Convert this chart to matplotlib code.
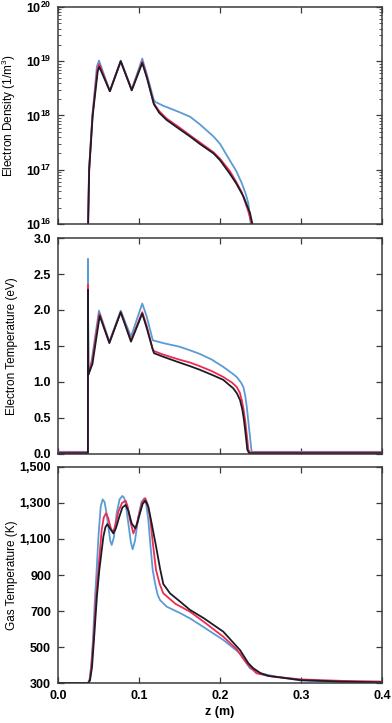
import matplotlib

matplotlib.use("Agg")
import matplotlib.pyplot as plt
import numpy as np
from matplotlib.ticker import FixedLocator, FuncFormatter, LogLocator, NullFormatter

plt.rcParams["font.family"] = ["Liberation Sans", "DejaVu Sans"]
plt.rcParams["mathtext.fontset"] = "custom"
plt.rcParams["mathtext.rm"] = "Liberation Sans"
plt.rcParams["mathtext.bf"] = "Liberation Sans:bold"

BLUE = "#5b9bd5"
RED = "#ee2c52"
BLACK = "#1c1c28"

# electron density (1/m^3) vs z (m)
ne_blue_z = [0.0370, 0.0383, 0.0424, 0.0480, 0.0506, 0.0640, 0.0774, 0.0910, 0.1040, 0.1100, 0.1180,
             0.1200, 0.1300, 0.1400, 0.1500, 0.1630, 0.1750, 0.1920, 0.2000, 0.2120, 0.2200, 0.2270,
             0.2320, 0.2350, 0.2380]
ne_blue = [1.0e16, 1.0e17, 1.0e18, 8.0e18, 1.03e19, 2.8e18, 1.03e19, 3.0e18, 1.12e19, 5.5e18, 2.0e18,
           1.78e18, 1.51e18, 1.32e18, 1.15e18, 9.5e17, 6.9e17, 4.1e17, 3.0e17, 1.5e17, 9.5e16, 5.6e16,
           3.5e16, 2.4e16, 1.0e16]
ne_red_z = [0.0371, 0.0384, 0.0426, 0.0485, 0.0508, 0.0640, 0.0774, 0.0910, 0.1042, 0.1100, 0.1180,
            0.1250, 0.1340, 0.1500, 0.1630, 0.1750, 0.1920, 0.2000, 0.2120, 0.2200, 0.2270, 0.2350,
            0.2390]
ne_red = [1.0e16, 1.0e17, 1.0e18, 7.0e18, 8.9e18, 2.8e18, 1.0e19, 3.0e18, 9.8e18, 5.0e18, 1.7e18,
          1.2e18, 8.8e17, 6.0e17, 4.3e17, 3.2e17, 2.1e17, 1.6e17, 9.5e16, 6.0e16, 3.8e16, 1.7e16,
          1.0e16]
ne_black_z = [0.0372, 0.0385, 0.0428, 0.0490, 0.0510, 0.0640, 0.0774, 0.0910, 0.1040, 0.1100, 0.1185,
              0.1250, 0.1340, 0.1500, 0.1630, 0.1750, 0.1920, 0.2000, 0.2120, 0.2200, 0.2290, 0.2370,
              0.2400]
ne_black = [1.0e16, 1.0e17, 1.0e18, 6.5e18, 7.9e18, 2.8e18, 1.0e19, 2.9e18, 9.3e18, 4.8e18, 1.6e18,
            1.12e18, 8.3e17, 5.6e17, 4.1e17, 3.0e17, 2.0e17, 1.5e17, 8.5e16, 5.6e16, 3.2e16, 1.6e16,
            1.0e16]

# electron temperature (eV)
te_blue_z = [0.0, 0.0369, 0.0370, 0.0374, 0.0416, 0.0457, 0.0506, 0.0634, 0.0774, 0.0901, 0.1040,
             0.1095, 0.1170, 0.1300, 0.1500, 0.1630, 0.1750, 0.1900, 0.2040, 0.2150, 0.2206, 0.2260,
             0.2288, 0.2310, 0.2330, 0.2350, 0.2370, 0.2390, 0.4]
te_blue = [0.03, 0.03, 2.71, 1.10, 1.30, 1.62, 1.99, 1.56, 1.99, 1.63, 2.09,
           1.91, 1.58, 1.54, 1.49, 1.44, 1.39, 1.31, 1.21, 1.12, 1.07, 0.99,
           0.93, 0.82, 0.66, 0.45, 0.24, 0.03, 0.03]
te_red_z = [0.0, 0.0369, 0.0370, 0.0374, 0.0420, 0.0460, 0.0510, 0.0634, 0.0774, 0.0901, 0.1040,
            0.1095, 0.1170, 0.1185, 0.1300, 0.1500, 0.1630, 0.1750, 0.1900, 0.2040, 0.2150, 0.2206,
            0.2245, 0.2268, 0.2290, 0.2310, 0.2330, 0.2350, 0.2370, 0.4]
te_red = [0.02, 0.02, 2.35, 1.10, 1.28, 1.58, 1.95, 1.55, 1.97, 1.58, 1.97,
          1.78, 1.45, 1.43, 1.38, 1.31, 1.27, 1.22, 1.15, 1.07, 0.99, 0.93,
          0.85, 0.75, 0.62, 0.47, 0.27, 0.06, 0.02, 0.02]
te_black_z = [0.0, 0.0369, 0.0370, 0.0374, 0.0425, 0.0465, 0.0515, 0.0634, 0.0774, 0.0901, 0.1040,
              0.1095, 0.1170, 0.1185, 0.1300, 0.1500, 0.1630, 0.1750, 0.1900, 0.2040, 0.2165, 0.2210,
              0.2247, 0.2275, 0.2296, 0.2317, 0.2337, 0.2360, 0.4]
te_black = [0.01, 0.01, 2.28, 1.10, 1.25, 1.55, 1.92, 1.54, 1.97, 1.56, 1.95,
            1.75, 1.45, 1.40, 1.35, 1.27, 1.22, 1.17, 1.10, 1.03, 0.91, 0.84,
            0.75, 0.62, 0.47, 0.27, 0.06, 0.01, 0.01]

# gas temperature (K)
tg_blue_z = [0.0, 0.0370, 0.0390, 0.0410, 0.0430, 0.0455, 0.0477, 0.0500, 0.0527, 0.0551, 0.0575,
             0.0600, 0.0621, 0.0645, 0.0663, 0.0690, 0.0724, 0.0760, 0.0794, 0.0815, 0.0835, 0.0868,
             0.0900, 0.0922, 0.0950, 0.0992, 0.1030, 0.1066, 0.1090, 0.1115, 0.1140, 0.1169, 0.1198,
             0.1230, 0.1259, 0.1342, 0.1500, 0.1630, 0.1800, 0.2041, 0.2247, 0.2370, 0.2494, 0.2700,
             0.3000, 0.3500, 0.4]
tg_blue = [300, 300, 320, 400, 530, 760, 928, 1120, 1280, 1320, 1305,
           1240, 1169, 1090, 1067, 1110, 1243, 1320, 1339, 1330, 1298, 1187,
           1080, 1043, 1090, 1224, 1305, 1326, 1290, 1206, 1070, 928, 854,
           790, 761, 724, 690, 659, 610, 539, 465, 382, 354, 335,
           314, 306, 302]
tg_red_z = [0.0, 0.0372, 0.0390, 0.0410, 0.0440, 0.0470, 0.0498, 0.0539, 0.0565, 0.0593, 0.0620,
            0.0655, 0.0683, 0.0710, 0.0745, 0.0790, 0.0835, 0.0860, 0.0889, 0.0930, 0.0965, 0.1004,
            0.1040, 0.1078, 0.1105, 0.1136, 0.1170, 0.1210, 0.1255, 0.1300, 0.1450, 0.1630, 0.1800,
            0.2041, 0.2200, 0.2330, 0.2450, 0.2600, 0.3000, 0.3500, 0.4]
tg_red = [300, 300, 315, 380, 560, 780, 928, 1150, 1220, 1243, 1215,
          1155, 1141, 1180, 1252, 1300, 1313, 1280, 1206, 1131, 1170, 1243,
          1305, 1326, 1295, 1224, 1080, 928, 850, 798, 740, 696, 640,
          557, 490, 409, 354, 339, 320, 312, 308]
tg_black_z = [0.0, 0.0374, 0.0395, 0.0420, 0.0450, 0.0480, 0.0510, 0.0560, 0.0585, 0.0609, 0.0640,
              0.0683, 0.0715, 0.0757, 0.0795, 0.0835, 0.0870, 0.0909, 0.0955, 0.0980, 0.1012, 0.1045,
              0.1078, 0.1115, 0.1156, 0.1210, 0.1259, 0.1300, 0.1383, 0.1500, 0.1630, 0.1800, 0.2041,
              0.2247, 0.2350, 0.2411, 0.2500, 0.2600, 0.3000, 0.3500, 0.4]
tg_black = [300, 300, 315, 390, 580, 780, 928, 1113, 1165, 1183, 1160,
            1131, 1160, 1224, 1275, 1289, 1255, 1187, 1159, 1190, 1243, 1295,
            1313, 1280, 1187, 1060, 937, 850, 798, 755, 706, 660, 585,
            483, 410, 382, 355, 339, 316, 308, 304]

x_ticks = [0.0, 0.1, 0.2, 0.3, 0.4]
te_ticks = [0.0, 0.5, 1.0, 1.5, 2.0, 2.5, 3.0]
tg_ticks = [300, 500, 700, 900, 1100, 1300, 1500]


def style_axis(ax):
    for spine in ax.spines.values():
        spine.set_color("#3a3a3a")
        spine.set_linewidth(1.1)
    ax.tick_params(which="both", direction="in", top=True, right=True, color="#3a3a3a")
    ax.tick_params(which="major", length=4, width=0.9, pad=5, labelsize=9)
    ax.tick_params(which="minor", length=2, width=0.6)
    ax.set_xlim(0.0, 0.4)
    ax.xaxis.set_major_locator(FixedLocator(x_ticks))
    ax.yaxis.set_label_coords(-0.125, 0.5)
    for lab in ax.get_xticklabels() + ax.get_yticklabels():
        lab.set_fontweight("bold")


fig = plt.figure(figsize=(3.92, 7.23), dpi=100)
left, width = 0.148, 0.8265
ax1 = fig.add_axes([left, 0.6902, width, 0.3001])
ax2 = fig.add_axes([left, 0.3721, width, 0.2987])
ax3 = fig.add_axes([left, 0.0553, width, 0.2988])

lw = 1.3
for z, v, c in [(ne_blue_z, ne_blue, BLUE), (ne_red_z, ne_red, RED), (ne_black_z, ne_black, BLACK)]:
    ax1.plot(z, v, color=c, lw=lw)
ax1.set_yscale("log")
ax1.set_ylim(1e16, 1e20)
ax1.yaxis.set_major_locator(LogLocator(base=10, numticks=10))
ax1.yaxis.set_minor_locator(LogLocator(base=10, subs=np.arange(2, 10), numticks=20))
ax1.yaxis.set_minor_formatter(NullFormatter())
ax1.yaxis.set_major_formatter(FuncFormatter(lambda v, p: r"$\mathbf{10^{%d}}$" % round(np.log10(v))))
ax1.set_xticklabels([])
ax1.set_ylabel("Electron Density (1/m$^3$)", fontsize=8.5)

for z, v, c in [(te_blue_z, te_blue, BLUE), (te_red_z, te_red, RED), (te_black_z, te_black, BLACK)]:
    ax2.plot(z, v, color=c, lw=lw)
ax2.set_ylim(0.0, 3.0)
ax2.yaxis.set_major_locator(FixedLocator(te_ticks))
ax2.yaxis.set_major_formatter(FuncFormatter(lambda v, p: f"{v:.1f}"))
ax2.set_xticklabels([])
ax2.set_ylabel("Electron Temperature (eV)", fontsize=8.5)

for z, v, c in [(tg_blue_z, tg_blue, BLUE), (tg_red_z, tg_red, RED), (tg_black_z, tg_black, BLACK)]:
    ax3.plot(z, v, color=c, lw=lw)
ax3.set_ylim(300, 1500)
ax3.yaxis.set_major_locator(FixedLocator(tg_ticks))
ax3.yaxis.set_major_formatter(FuncFormatter(lambda v, p: f"{int(v):,}"))
ax3.xaxis.set_major_formatter(FuncFormatter(lambda v, p: f"{v:.1f}"))
ax3.set_ylabel("Gas Temperature (K)", fontsize=8.5)
ax3.set_xlabel("z (m)", fontsize=9, fontweight="bold", labelpad=3)

for ax in (ax1, ax2, ax3):
    style_axis(ax)

fig.savefig("out.png", dpi=100)
